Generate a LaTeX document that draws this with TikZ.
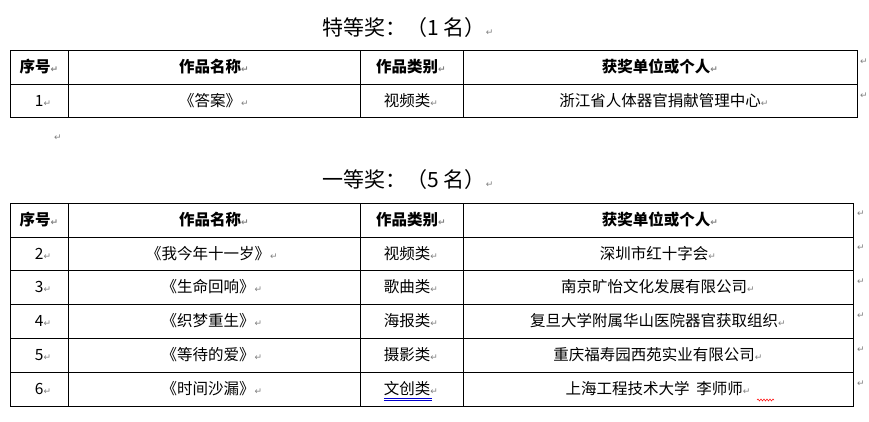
\documentclass[tikz,border=0pt]{standalone}
\usepackage{fontspec}
\setmainfont{Liberation Serif}
\newfontfamily\cjk{Noto Sans CJK SC}
\newfontfamily\dv{DejaVu Sans}
\usetikzlibrary{decorations.pathmorphing}
\newcommand{\parmk}{{\dv\color{gray}\fontsize{9}{9}\selectfont ↵}}
\begin{document}
\begin{tikzpicture}[x=1pt,y=-1pt,
  grid/.style={draw=black,line width=0.8pt},
  cell/.style={font=\cjk\fontsize{15.5}{15.5}\selectfont,inner sep=0pt,anchor=center},
  hcell/.style={cell,font=\cjk\bfseries\fontsize{15.5}{15.5}\selectfont},
  ttl/.style={font=\cjk\fontsize{21}{21}\selectfont,inner sep=0pt},
  pmark/.style={inner sep=0pt}]
\useasboundingbox[fill=white] (0,0) rectangle (869,421);
% titles
\node[ttl] (t1) at (408,28) {特等奖：（1 名）\parmk};
\node[ttl] (t2) at (408,180) {一等奖：（5 名）\parmk};
\node[pmark] (pm0) at (58,138) {\parmk};
% table 1
\draw[grid] (10,50) rectangle (857,117);
\draw[grid] (10,84) -- (857,84);
\foreach \x in {68,360,463} \draw[grid] (\x,50) -- (\x,117);
\node[hcell] (h1a) at (39,67) {序号\parmk};
\node[hcell] (h1b) at (214,67) {作品名称\parmk};
\node[hcell] (h1c) at (411,67) {作品类别\parmk};
\node[hcell] (h1d) at (660,67) {获奖单位或个人\parmk};
\node[pmark] (e1) at (864,62) {\parmk};
\node[pmark] (e2) at (864,96) {\parmk};
\node[cell] (r1a) at (43,101) {1\parmk};
\node[cell] (r1b) at (214,101) {《答案》\parmk};
\node[cell] (r1c) at (411,101) {视频类\parmk};
\node[cell] (r1d) at (664,101) {浙江省人体器官捐献管理中心\parmk};
% table 2
\draw[grid] (10,203) rectangle (853,406);
\foreach \y in {237,270,304,338,372} \draw[grid] (10,\y) -- (853,\y);
\foreach \x in {68,360,463} \draw[grid] (\x,203) -- (\x,406);
\node[hcell] (h2a) at (39,220) {序号\parmk};
\node[hcell] (h2b) at (214,220) {作品名称\parmk};
\node[hcell] (h2c) at (411,220) {作品类别\parmk};
\node[hcell] (h2d) at (660,220) {获奖单位或个人\parmk};
\foreach \y [count=\i] in {214,248,282,316,350,384} \node[pmark] (m\i) at (861,\y) {\parmk};
\foreach \n/\y/\b/\c/\d in {
 2/254/《我今年十一岁》/视频类/深圳市红十字会,
 3/287/《生命回响》/歌曲类/南京旷怡文化发展有限公司,
 4/321/《织梦重生》/海报类/复旦大学附属华山医院器官获取组织,
 5/355/《等待的爱》/摄影类/重庆福寿园西苑实业有限公司,
 6/389/《时间沙漏》/文创类/上海工程技术大学\ \ 李师师}{
 \node[cell] (r\n a) at (43,\y) {\n\parmk};
 \node[cell] (r\n b) at (212,\y) {\b\parmk};
 \node[cell] (r\n c) at (411,\y) {\c\parmk};
 \node[cell] (r\n d) at (658,\y) {\d\parmk};
}
\draw[blue!80!black,line width=0.6pt] (r6c.south west) ++(0,2) -- ++(48,0);
\draw[blue!80!black,line width=0.6pt] (r6c.south west) ++(0,4) -- ++(48,0);
\draw[red,line width=0.5pt,decorate,decoration={snake,amplitude=1pt,segment length=3pt}] (757,400) -- (774,400);
\end{tikzpicture}
\end{document}
